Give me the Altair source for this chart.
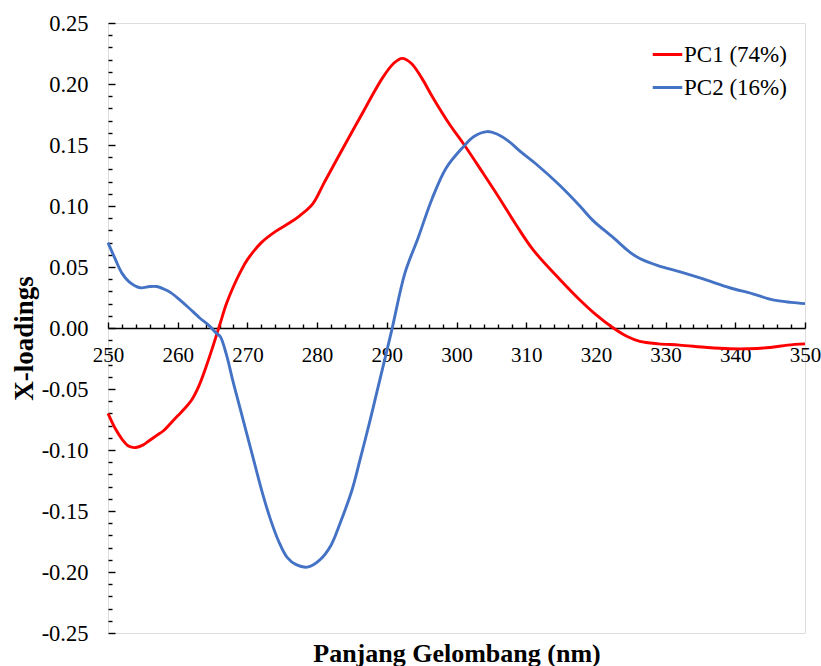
import altair as alt
import pandas as pd

# ---- data ----
wl_pc1 = [250, 251, 252, 253, 254, 255, 256, 257, 258, 259, 260, 261, 262, 263, 264, 265, 266, 267, 268, 269,
          270, 272, 274, 276, 277.5, 279.4, 281, 283, 286.2, 289.5, 291, 292.2, 293.5, 295, 296.6, 299, 301,
          303.8, 306.2, 308.5, 311, 314.8, 317.7, 320, 322.5, 324.5, 326.3, 329, 332, 336, 339.2, 342, 345,
          347.5, 350]
pc1 = [-0.070, -0.082, -0.091, -0.097, -0.098, -0.096, -0.092, -0.088, -0.084, -0.078, -0.072, -0.066, -0.059,
       -0.048, -0.033, -0.016, 0.002, 0.020, 0.034, 0.046, 0.056, 0.070, 0.079, 0.086, 0.092, 0.102, 0.119,
       0.140, 0.173, 0.206, 0.217, 0.221, 0.217, 0.205, 0.189, 0.167, 0.151, 0.127, 0.106, 0.085, 0.064,
       0.040, 0.023, 0.011, 0.000, -0.007, -0.011, -0.013, -0.014, -0.016, -0.017, -0.017, -0.016, -0.014,
       -0.013]

wl_pc2 = [250, 251, 252, 253, 254.6, 256, 257, 258, 259, 260.3, 261.5, 263.2, 264.5, 265.5, 266.1, 267, 267.9,
          269, 270.8, 272, 273.2, 274.5, 275.7, 277, 278.6, 280.4, 282, 283.3, 285, 286.2, 287.5, 288.6, 290.7,
          292.6, 294.5, 296.5, 298.5, 300.9, 302.5, 304.4, 305.8, 307.5, 309.1, 311.5, 314.8, 317.7, 319.6,
          322.5, 324.9, 326.3, 329, 332.1, 335.5, 339.2, 342.5, 345.4, 348, 350]
pc2 = [0.070, 0.057, 0.045, 0.038, 0.033, 0.034, 0.034, 0.032, 0.029, 0.023, 0.017, 0.008, 0.002, -0.004,
       -0.007, -0.022, -0.043, -0.067, -0.106, -0.132, -0.155, -0.175, -0.188, -0.194, -0.196, -0.190, -0.178,
       -0.160, -0.133, -0.107, -0.078, -0.052, -0.002, 0.045, 0.074, 0.106, 0.131, 0.148, 0.157, 0.161, 0.159,
       0.153, 0.145, 0.134, 0.117, 0.100, 0.088, 0.074, 0.062, 0.057, 0.051, 0.046, 0.040, 0.033, 0.028,
       0.023, 0.021, 0.020]

series_names = ["PC1 (74%)", "PC2 (16%)"]
series_colors = ["#FF0000", "#4472C4"]

x_major = list(range(250, 351, 10))
x_minor = list(range(250, 351, 2))
y_major = [round(-0.25 + 0.05 * i, 2) for i in range(11)]
y_minor = [round(-0.25 + 0.01 * i, 2) for i in range(51)]

df = pd.concat([
    pd.DataFrame({"wl": wl_pc1, "val": pc1, "series": series_names[0]}),
    pd.DataFrame({"wl": wl_pc2, "val": pc2, "series": series_names[1]}),
])

FONT = "Liberation Serif"
W, H = 697, 610

xscale = alt.Scale(domain=[250, 350], nice=False, zero=False)
yscale = alt.Scale(domain=[-0.25, 0.25], nice=False, zero=False)

# Layer A: visible lines, tick labels, titles, legend
lines = alt.Chart(df).mark_line(strokeWidth=2.9, interpolate="catmull-rom").encode(
    x=alt.X("wl:Q", scale=xscale, axis=alt.Axis(
        orient="bottom", offset=-(H / 2), values=x_major, format="d",
        ticks=False, tickSize=0, domain=False, grid=False,
        labelPadding=16, labelFontSize=21, labelFont=FONT, labelColor="black",
        labelFlush=False, labelOverlap=False,
        title="Panjang Gelombang (nm)", titleFont=FONT, titleFontSize=26,
        titleFontWeight="bold", titleColor="black", titleX=W / 2, titleY=333,
        titleAlign="center", titleBaseline="alphabetic")),
    y=alt.Y("val:Q", scale=yscale, axis=alt.Axis(
        orient="left", values=y_major,
        labelExpr="(datum.value < -0.0001 ? '-' : '') + format(abs(datum.value), '.2f')",
        ticks=False, tickSize=0, domain=False, grid=False,
        labelPadding=20, labelFontSize=22.5, labelFont=FONT, labelColor="black",
        labelOverlap=False, labelFlush=False,
        title="X-loadings", titleFont=FONT, titleFontSize=27, titleFontWeight="bold",
        titleColor="black", titleX=-84, titleY=315, titleAlign="center",
        titleBaseline="middle")),
    color=alt.Color("series:N", scale=alt.Scale(domain=series_names, range=series_colors),
                    legend=alt.Legend(orient="none", legendX=543, legendY=15, title=None,
                                      symbolType="stroke", symbolSize=870, symbolStrokeWidth=3,
                                      labelFontSize=23, labelFont=FONT, labelColor="black",
                                      labelOffset=0, rowPadding=4)),
)

# Layer B: invisible copy carrying the inward tick marks and the zero line
ticks = alt.Chart(df).mark_line(strokeOpacity=0, interpolate="catmull-rom").encode(
    x=alt.X("wl:Q", scale=xscale, axis=alt.Axis(
        orient="top", offset=-(H / 2), values=x_minor, labels=False, grid=False,
        domain=True, domainColor="black", domainWidth=1.5,
        tickColor="black", tickWidth=1.4,
        tickSize={"condition": {"test": "datum.value % 10 == 0", "value": 6}, "value": 4},
        title=None)),
    y=alt.Y("val:Q", scale=yscale, axis=alt.Axis(
        orient="right", offset=-W, values=y_minor, labels=False, grid=False,
        domain=False, tickColor="black", tickWidth=1.4,
        tickSize={"condition": {"test": "abs(round(datum.value*100)) % 5 == 0", "value": 7}, "value": 4},
        title=None)),
    detail="series:N",
)

chart = alt.layer(ticks, lines).resolve_axis(x="independent", y="independent").properties(
    width=W, height=H,
    autosize=alt.AutoSizeParams(type="none"),
    padding={"left": 108, "top": 23, "right": 16, "bottom": 33},
    background="white",
).configure_view(stroke="black", strokeWidth=1.6).configure(font=FONT)

chart.save("out.html", embed_options={"renderer": "svg", "actions": False})
